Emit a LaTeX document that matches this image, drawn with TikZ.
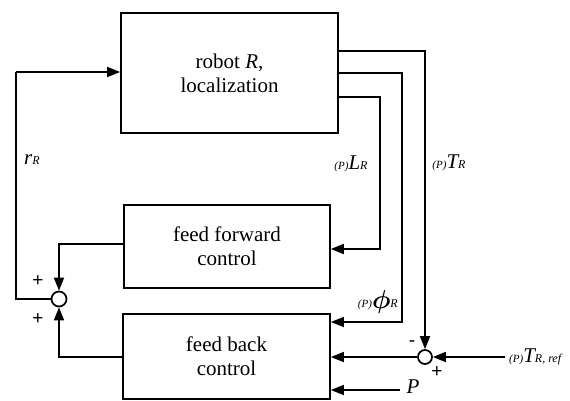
\documentclass[tikz,border=0pt]{standalone}
\usepackage{fontspec}
\usepackage{bm}
\setmainfont{Liberation Serif}
\newfontfamily\signfont{Liberation Sans}
\usetikzlibrary{arrows.meta}
\newcommand{\bigsz}{\fontsize{21}{24}\selectfont}
\newcommand{\smallsz}{\fontsize{12}{12}\selectfont}
\newcommand{\tinysz}{\fontsize{11}{11}\selectfont}
\tikzset{
  block/.style={draw, line width=1.7pt, inner sep=0pt, align=center, font=\bigsz},
  sumnode/.style={draw, circle, line width=1.7pt, inner sep=0pt, fill=white},
  sig/.style={line width=1.7pt, -{Triangle[length=13pt,width=10pt]}},
  wire/.style={line width=1.7pt},
  lbl/.style={inner sep=0pt, font=\bigsz\itshape},
  signlbl/.style={inner sep=0pt, font=\signfont\fontsize{19}{19}\selectfont}
}
\begin{document}
\begin{tikzpicture}[x=1pt, y=-1pt]
\useasboundingbox (0,0) rectangle (570,401);

% blocks
\node[block, minimum width=217pt, minimum height=120pt] (robot) at (229.5,73)
  {robot \textit{R},\\localization};
\node[block, minimum width=206pt, minimum height=83pt] (ff) at (227,246.5)
  {feed forward\\control};
\node[block, minimum width=207pt, minimum height=85pt] (fb) at (226.5,356.5)
  {feed back\\control};

% summing junctions
\node[sumnode, minimum size=15pt] (sumL) at (59,299) {};
\node[sumnode, minimum size=14pt] (sumR) at (425,357) {};

% free ends and corners
\coordinate (loopC) at (16,72);
\coordinate (lC) at (380,249);
\coordinate (phiC) at (402,322);
\coordinate (refIn) at (505,357);
\coordinate (pIn) at (400,390);

% robot outputs
\draw[sig] (robot.east |- 0,51) -| (sumR.north);
\draw[sig] (robot.east |- 0,73) -| (phiC) -- (fb.east |- phiC);
\draw[sig] (robot.east |- 0,97) -| (lC) -- (ff.east |- lC);

% controller outputs into the left junction
\draw[sig] (ff.west |- 0,244) -| (sumL.north);
\draw[sig] (fb.west |- 0,357) -| (sumL.south);

% feedback to the robot
\draw[wire] (sumL.west) -| (loopC);
\draw[sig] (loopC) -- (robot.west |- loopC);

% right junction and inputs
\draw[sig] (sumR.west) -- (fb.east |- sumR);
\draw[sig] (refIn) -- (sumR.east);
\draw[sig] (pIn) -- (fb.east |- pIn);

% signal labels
\node[lbl] (lr) at (32,160) {r{\smallsz R}};
\node[lbl] (ll) at (351,164) {{\tinysz (P)}L{\smallsz R}};
\node[lbl] (lt) at (449,163) {{\tinysz (P)}T{\smallsz R}};
\node[lbl, anchor=east] (lphi) at (398,302) {{\tinysz (P)}\raisebox{-1pt}{\scalebox{1.25}{$\bm{\phi}$}}{\smallsz R}};
\node[lbl, anchor=west] (lref) at (509,357) {{\tinysz (P)}T{\smallsz R, ref}};
\node[lbl] (lp) at (413,387) {P};

% junction signs
\node[signlbl] (s1) at (38,281) {+};
\node[signlbl] (s2) at (38,319) {+};
\node[signlbl] (s3) at (412,344) {-};
\node[signlbl] (s4) at (437,372) {+};
\end{tikzpicture}
\end{document}
